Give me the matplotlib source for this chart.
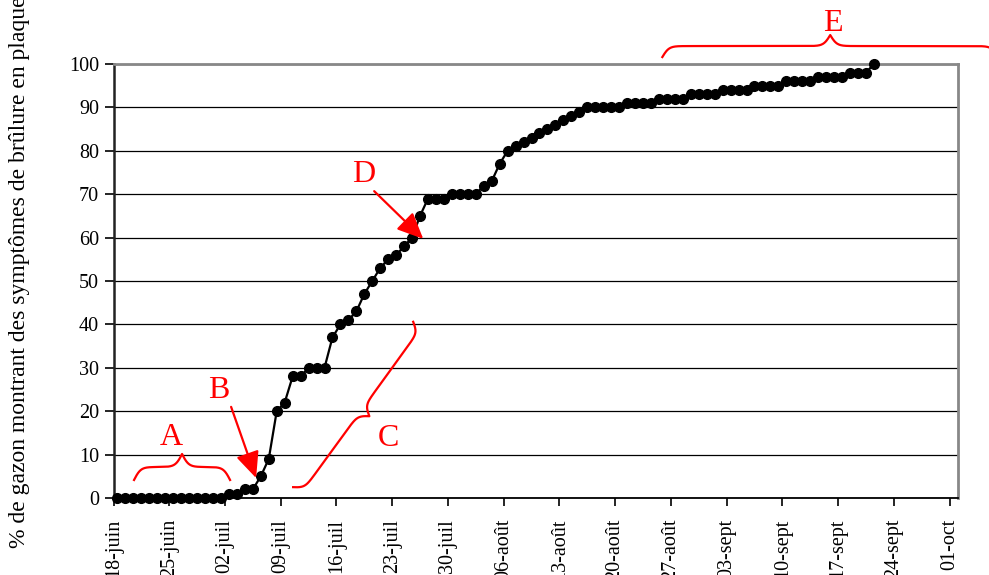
import numpy as np
import pandas as pd
import matplotlib
matplotlib.use('Agg')
import matplotlib.pyplot as plt
import matplotlib.dates as mdates
from matplotlib.transforms import IdentityTransform

# ---------------- data ----------------
start_date = '2007-06-18'
pct_values = [0, 0, 0, 0, 0, 0, 0, 0, 0, 0, 0, 0, 0, 0,
              1, 1, 2, 2, 5, 9, 20, 22, 28, 28,
              30, 30, 30, 37, 40, 41, 43, 47, 50, 53,
              55, 56, 58, 60, 65, 69, 69, 69, 70, 70,
              70, 70, 72, 73, 77, 80, 81, 82, 83, 84,
              85, 86, 87, 88, 89, 90, 90, 90, 90, 90,
              91, 91, 91, 91, 92, 92, 92, 92, 93, 93,
              93, 93, 94, 94, 94, 94, 95, 95, 95, 95,
              96, 96, 96, 96, 97, 97, 97, 97, 98, 98,
              98, 100]
tick_labels = ['18-juin', '25-juin', '02-juil', '09-juil', '16-juil', '23-juil',
               '30-juil', '06-août', '13-août', '20-août', '27-août', '03-sept',
               '10-sept', '17-sept', '24-sept', '01-oct']
y_ticks = [0, 10, 20, 30, 40, 50, 60, 70, 80, 90, 100]
y_label = '% de gazon montrant des symptômes de brûlure en plaques'

dates = pd.date_range(start_date, periods=len(pct_values), freq='D')
tick_dates = pd.date_range(start_date, periods=len(tick_labels), freq='7D')

plt.rcParams['font.family'] = ['Liberation Serif', 'DejaVu Serif']

W, H = 989, 575
fig = plt.figure(figsize=(W / 100, H / 100), dpi=100)
ax_l, ax_r, ax_t, ax_b = 113.5, 957.5, 64, 498
ax = fig.add_axes([ax_l / W, (H - ax_b) / H, (ax_r - ax_l) / W, (ax_b - ax_t) / H])

x0 = mdates.date2num(pd.Timestamp(start_date))
xpts = mdates.date2num(dates) + 0.5
ax.plot(xpts, pct_values, color='black', lw=1.6, marker='o', ms=7,
        markerfacecolor='black', markeredgecolor='black', zorder=3, clip_on=False)

ax.set_xlim(x0, x0 + 106)
ax.set_ylim(0, 100)
ax.set_xticks(mdates.date2num(tick_dates))
ax.set_xticklabels(tick_labels, rotation=90, fontsize=14.5)
ax.set_yticks(y_ticks)
ax.set_yticklabels([str(v) for v in y_ticks], fontsize=14.5)
ax.tick_params(axis='x', direction='out', length=6, width=1.2, pad=9, color='black')
ax.tick_params(axis='y', direction='out', length=6.5, width=1.2, pad=4, color='black')
for lbl in ax.get_xticklabels():
    lbl.set_x(lbl.get_position()[0])
ax.yaxis.grid(True, color='black', lw=0.9)
ax.set_axisbelow(True)
for s in ['top', 'right']:
    ax.spines[s].set_color('#888888')
    ax.spines[s].set_linewidth(2)
ax.spines['left'].set_color('#222222')
ax.spines['left'].set_linewidth(1.8)
ax.spines['bottom'].set_color('black')
ax.spines['bottom'].set_linewidth(1.3)

fig.text(20 / W, (H - 548) / H, y_label, rotation=90, ha='center', va='bottom',
         fontsize=17)

# ---------------- annotations ----------------
RED = '#FF0000'


def draw_brace(p0, p1, depth, side=1, beta=0.3):
    P0 = ax.transData.transform(p0)
    P1 = ax.transData.transform(p1)
    v = P1 - P0
    L = np.hypot(*v)
    u = v / L
    n = np.array([-u[1], u[0]]) * side
    s = np.linspace(0, L / 2, 300)
    half = 1 / (1 + np.exp(-beta * (s - s[0]))) + 1 / (1 + np.exp(-beta * (s - s[-1])))
    off = (half - 0.5) * depth
    along = np.concatenate([s, L - s[-2::-1]])
    offs = np.concatenate([off, off[-2::-1]])
    pts = P0[None, :] + along[:, None] * u[None, :] + offs[:, None] * n[None, :]
    ax.plot(pts[:, 0], pts[:, 1], transform=IdentityTransform(), color=RED,
            lw=1.6, clip_on=False, zorder=4)


def D(d):
    return x0 + d


letter_kw = dict(color=RED, fontsize=23, ha='center', va='baseline', zorder=5)
arrow_kw = dict(arrowstyle='-|>,head_length=1.0,head_width=0.45', color=RED,
                lw=1.6, mutation_scale=16, shrinkA=0, shrinkB=0)

# A
draw_brace((D(2.58), 4.15), (D(14.64), 4.15), 26)
ax.text(D(7.23), 12.2, 'A', **letter_kw)
# B
ax.text(D(13.26), 23.0, 'B', **letter_kw)
ax.annotate('', xy=(D(17.91), 4.6), xytext=(D(14.77), 21.0), arrowprops=arrow_kw, zorder=5)
# C
draw_brace((D(22.56), 2.5), (D(37.64), 40.6), 20, side=-1)
ax.text(D(34.5), 12.0, 'C', **letter_kw)
# D
ax.text(D(31.36), 72.8, 'D', **letter_kw)
ax.annotate('', xy=(D(38.9), 59.7), xytext=(D(32.74), 70.7), arrowprops=arrow_kw, zorder=5)
# E
draw_brace((D(68.93), 101.6), (D(111.1), 101.6), 22)
ax.text(D(90.4), 107.6, 'E', clip_on=False, **letter_kw)

fig.savefig('out.png', dpi=100)
